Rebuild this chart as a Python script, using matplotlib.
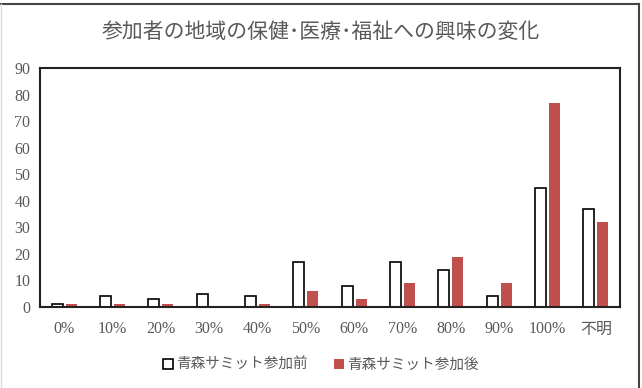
import matplotlib.pyplot as plt
import numpy as np
from matplotlib.lines import Line2D

categories = ["0%", "10%", "20%", "30%", "40%", "50%", "60%", "70%", "80%", "90%", "100%", "不明"]
before = [1, 4, 3, 5, 4, 17, 8, 17, 14, 4, 45, 37]
after = [1, 1, 1, 0, 1, 6, 3, 9, 19, 9, 77, 32]
series_names = ["青森サミット参加前", "青森サミット参加後"]
title = "参加者の地域の保健･医療･福祉への興味の変化"

jp = ["Noto Sans CJK JP", "DejaVu Sans"]
gray = "#595959"

fig = plt.figure(figsize=(6.42, 3.88), dpi=100)
ax = fig.add_axes([40 / 642, 1 - 307 / 388, 580 / 642, 239 / 388])

x = np.arange(len(categories))
w = 0.23
ax.bar(x - 0.145, before, w, facecolor="white", edgecolor="black", linewidth=1.2,
       label=series_names[0])
ax.bar(x + 0.145, after, w, color="#C0504D", label=series_names[1])

ax.set_xlim(-0.5, len(categories) - 0.5)
ax.set_ylim(0, 90)
ax.set_yticks(range(0, 91, 10))
ax.set_xticks(x)
ax.set_xticklabels(categories)
for lab in ax.get_xticklabels():
    lab.set_family(["Liberation Serif", "Noto Sans CJK JP"] if "%" in lab.get_text() else jp)
for lab in ax.get_yticklabels():
    lab.set_family("Liberation Serif")
ax.tick_params(length=0, labelsize=11.5, colors=gray, pad=7)
ax.tick_params(axis="x", pad=10)
for s in ax.spines.values():
    s.set_linewidth(1.5)
    s.set_color("#222222")

fig.text(0.5, 1 - 32 / 388, title, ha="center", va="center", fontsize=15,
         color=gray, family=jp)

leg = fig.legend(loc="center", bbox_to_anchor=(0.5, 1 - 365 / 388), ncol=2,
                 frameon=False, prop={"family": jp, "size": 10.5},
                 handlelength=0.7, handleheight=0.7, handletextpad=0.2, columnspacing=1.8)
for t in leg.get_texts():
    t.set_color(gray)

# outer chart border: dark top/right, faint left
top = 1 - 4 / 388
right = 639 / 642
fig.add_artist(Line2D([1 / 642, right], [top, top], transform=fig.transFigure,
                      color="#444444", linewidth=1.5))
fig.add_artist(Line2D([right, right], [0, top], transform=fig.transFigure,
                      color="#444444", linewidth=1.5))
fig.add_artist(Line2D([1 / 642, 1 / 642], [0, top], transform=fig.transFigure,
                      color="#dddddd", linewidth=1))

plt.savefig("out.png", dpi=100)
